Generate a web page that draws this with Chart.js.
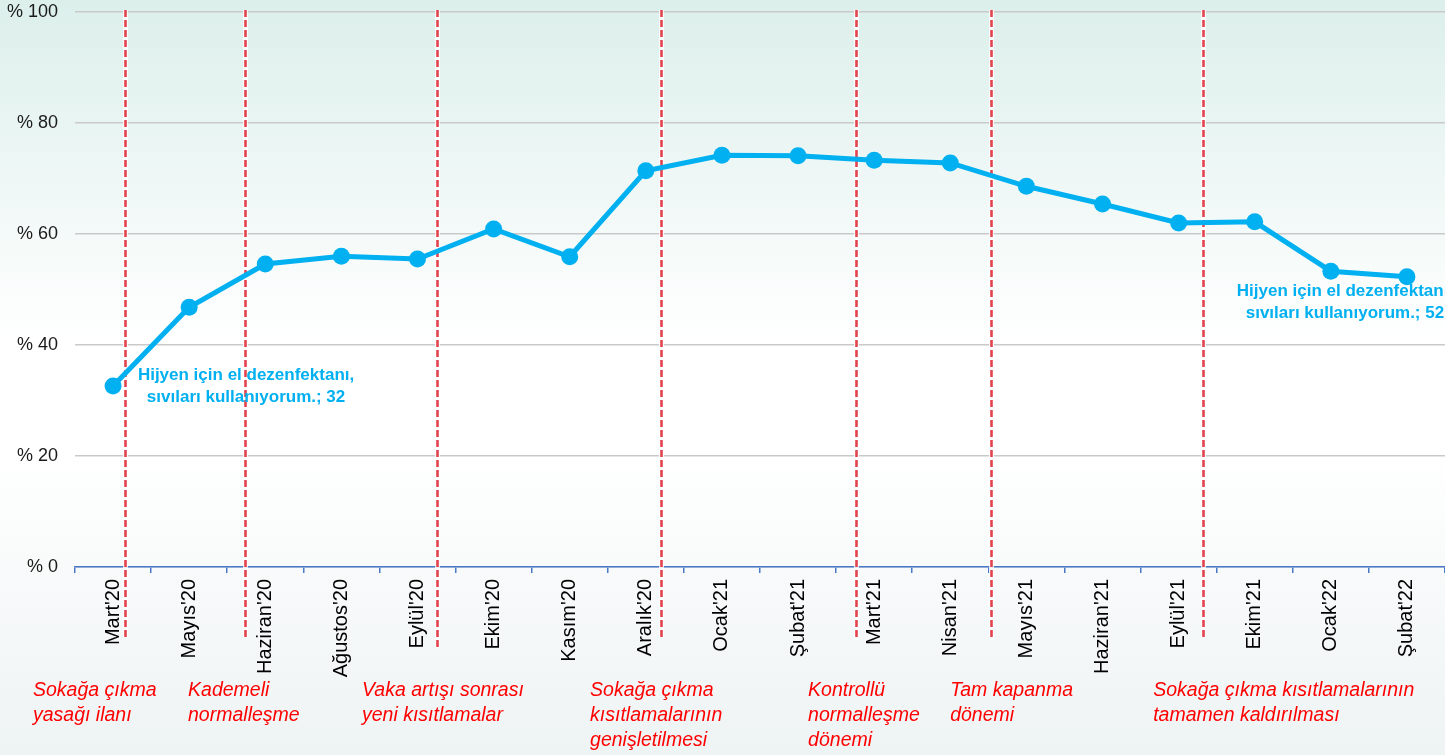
<!DOCTYPE html>
<html><head><meta charset="utf-8">
<script src="https://cdn.jsdelivr.net/npm/chart.js@4.4.1/dist/chart.umd.min.js"></script>
<style>html,body{margin:0;padding:0;background:#fff}#wrap{width:1445px;height:755px;position:relative}</style>
</head><body><div id="wrap"><canvas id="c" width="1445" height="755"></canvas></div>
<script>
const categories = ["Mart'20","Mayıs'20","Haziran'20","Ağustos'20","Eylül'20","Ekim'20","Kasım'20","Aralık'20","Ocak'21","Şubat'21","Mart'21","Nisan'21","Mayıs'21","Haziran'21","Eylül'21","Ekim'21","Ocak'22","Şubat'22"];
const values = [32.6,46.8,54.6,56.0,55.5,60.9,55.9,71.4,74.2,74.1,73.3,72.8,68.6,65.4,62.0,62.2,53.3,52.3];
const yTicks = [0,20,40,60,80,100];
const seriesName = "Hijyen için el dezenfektanı, sıvıları kullanıyorum.";
// event dividers, in category units
const eventPositions = [0.157,1.733,4.256,7.199,9.761,11.535,14.32];
const eventLineEnds = [638,638,648,638,640,640,638];
// event captions: left position in category units, lines
const eventCaptionPos = [-1.052,0.985,3.271,6.267,9.132,10.998,13.666];
const eventCaptions = [
  ["Sokağa çıkma","yasağı ilanı"],
  ["Kademeli","normalleşme"],
  ["Vaka artışı sonrası","yeni kısıtlamalar"],
  ["Sokağa çıkma","kısıtlamalarının","genişletilmesi"],
  ["Kontrollü","normalleşme","dönemi"],
  ["Tam kapanma","dönemi"],
  ["Sokağa çıkma kısıtlamalarının","tamamen kaldırılması"]
];
const labelledPoints = [0,17];

const bgPlugin = {
  id:'bg',
  beforeDraw(chart){
    const {ctx,width,height}=chart;
    const g=ctx.createLinearGradient(0,0,0,height);
    g.addColorStop(0,'#dcefeb');
    g.addColorStop(0.45,'#ffffff');
    g.addColorStop(0.6,'#ffffff');
    g.addColorStop(1,'#eef3f4');
    ctx.save();ctx.fillStyle=g;ctx.fillRect(0,0,width,height);ctx.restore();
  }
};
const eventPlugin = {
  id:'events',
  beforeDatasetsDraw(chart){
    const {ctx,scales:{x},chartArea}=chart;
    ctx.save();
    eventPositions.forEach((p,i)=>{
      const px=Math.round(x.getPixelForValue(p))+0.5;
      ctx.setLineDash([]);
      ctx.strokeStyle='rgba(255,255,255,0.8)';ctx.lineWidth=5;
      ctx.beginPath();ctx.moveTo(px,chartArea.top-2);ctx.lineTo(px,eventLineEnds[i]);ctx.stroke();
      ctx.setLineDash([7,3]);
      ctx.strokeStyle='#e2444f';ctx.lineWidth=2.6;
      ctx.beginPath();ctx.moveTo(px,chartArea.top-2);ctx.lineTo(px,eventLineEnds[i]);ctx.stroke();
    });
    ctx.restore();
  },
  afterDraw(chart){
    const {ctx,scales:{x},chartArea}=chart;
    ctx.save();
    ctx.fillStyle='#ff0000';
    ctx.font='italic 19.5px "Liberation Sans", Arial, sans-serif';
    ctx.textAlign='left';ctx.textBaseline='middle';
    eventCaptions.forEach((lines,i)=>{
      const px=x.getPixelForValue(eventCaptionPos[i]);
      lines.forEach((t,j)=>ctx.fillText(t,px,chartArea.bottom+124+j*25));
    });
    // data labels
    const meta=chart.getDatasetMeta(0);
    ctx.fillStyle='#00b0f0';
    ctx.font='bold 17px "Liberation Sans", Arial, sans-serif';
    ctx.textAlign='center';
    const parts=seriesName.split(' sıvıları');
    const l1=parts[0], l2='sıvıları'+parts[1]+'; ';
    const pt0=meta.data[labelledPoints[0]];
    ctx.fillText(l1,pt0.x+133,pt0.y-11);
    ctx.fillText(l2+Math.floor(values[labelledPoints[0]]),pt0.x+133,pt0.y+11);
    const pt1=meta.data[labelledPoints[1]];
    ctx.fillText(l1,pt1.x-62,pt1.y+15);
    ctx.fillText(l2+Math.floor(values[labelledPoints[1]]),pt1.x-62,pt1.y+37);
    ctx.restore();
  }
};

new Chart(document.getElementById('c'),{
  type:'line',
  data:{labels:categories,datasets:[{
    label:seriesName,data:values,borderColor:'#00b0f0',backgroundColor:'#00b0f0',
    borderWidth:5,pointRadius:8.5,pointHoverRadius:8.5,pointBackgroundColor:'#00b0f0',pointBorderWidth:0,tension:0
  }]},
  options:{
    responsive:false,animation:false,
    layout:{autoPadding:false,padding:{top:12,left:0,right:0,bottom:0}},
    plugins:{legend:{display:false},tooltip:{enabled:false}},
    scales:{
      x:{type:'category',offset:true,
        grid:{display:true,offset:true,drawOnChartArea:false,drawTicks:true,tickLength:6,color:'#4a78c8',lineWidth:1.5},
        border:{display:true,color:'#4a78c8',width:1.5},
        ticks:{minRotation:90,maxRotation:90,autoSkip:false,padding:6,color:'#000',font:{family:'"Liberation Sans", Arial, sans-serif',size:20}},
        afterFit(s){s.height=188;s.paddingLeft=0;s.paddingRight=0;}
      },
      y:{min:0,max:100,
        afterBuildTicks(s){s.ticks=yTicks.map(v=>({value:v}));},
        grid:{color:'#c9c9c9',lineWidth:1.5,drawTicks:false},
        border:{display:false},
        ticks:{padding:17,color:'#1a1a1a',font:{family:'"Liberation Sans", Arial, sans-serif',size:18},callback:v=>'% '+v},
        afterFit(s){s.width=75;s.paddingTop=0;s.paddingBottom=0;}
      }
    }
  },
  plugins:[bgPlugin,eventPlugin]
});
</script></body></html>
